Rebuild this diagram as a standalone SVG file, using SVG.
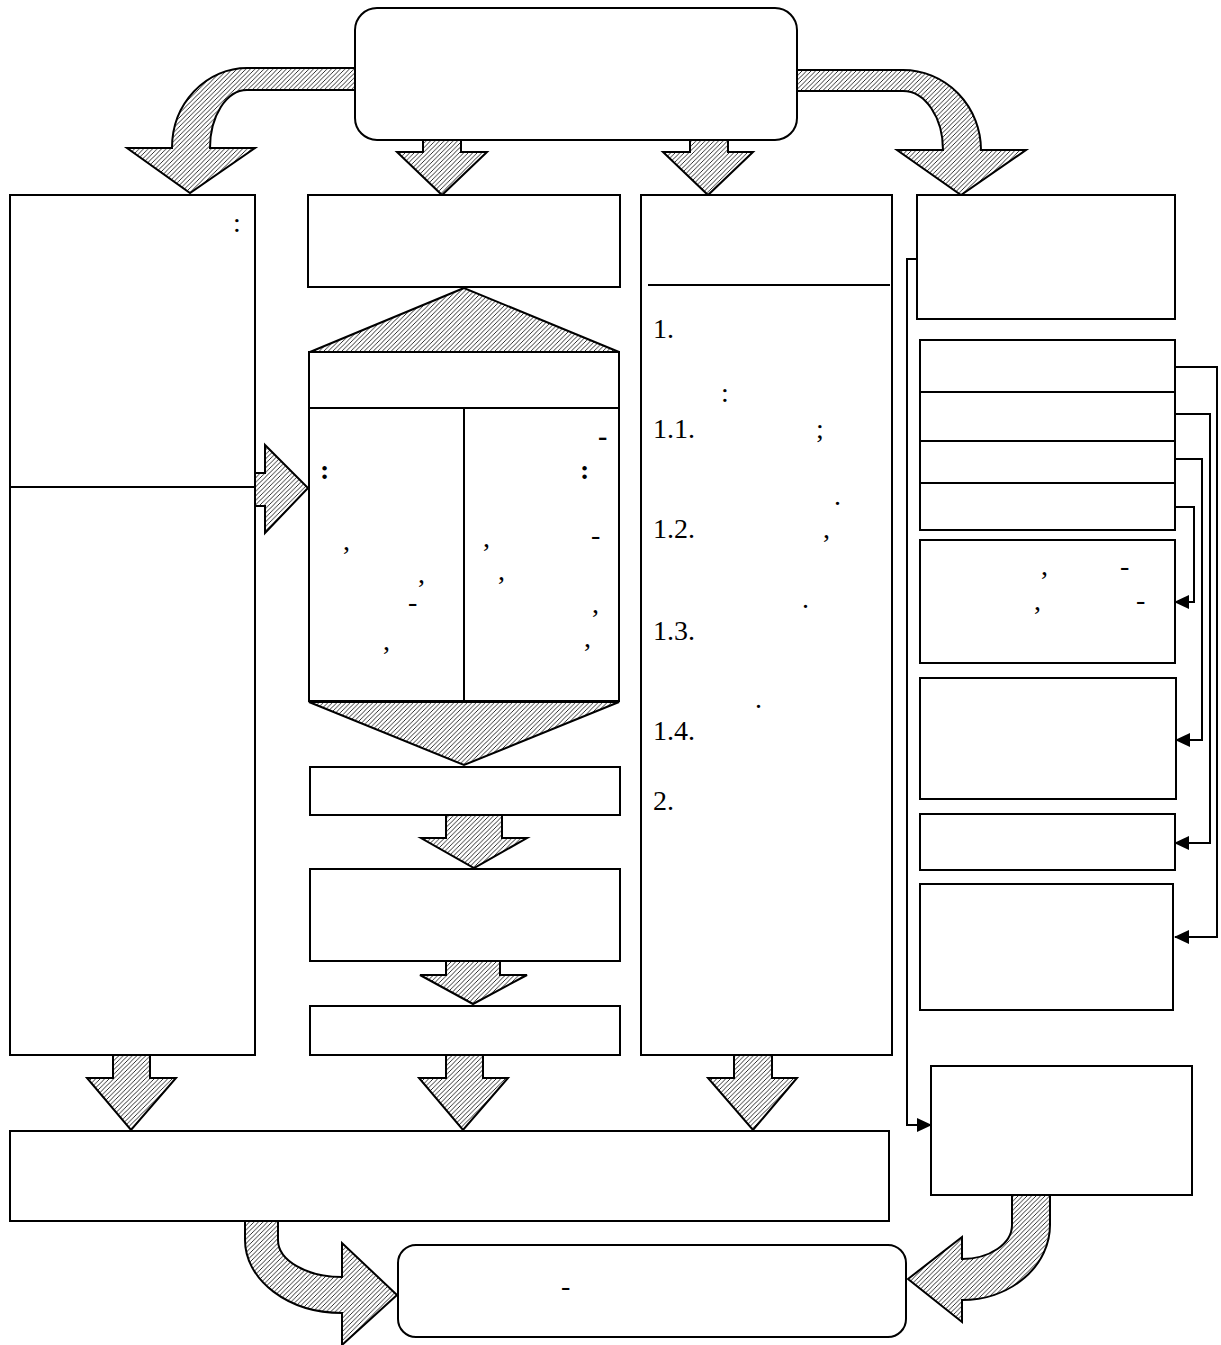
<svg xmlns="http://www.w3.org/2000/svg" width="1221" height="1345" viewBox="0 0 1221 1345">
<style>
.box{fill:#fff;stroke:#000;stroke-width:2}
.ln{fill:none;stroke:#000;stroke-width:2}
.hat{fill:url(#hatch);stroke:#000;stroke-width:2;stroke-linejoin:miter}
.con{fill:none;stroke:#000;stroke-width:2;marker-end:url(#ah)}
text{font-family:"Liberation Serif","Times New Roman",serif;font-size:28px;fill:#000}
.b{font-weight:bold}
</style>
<defs>
<pattern id="hatch" patternUnits="userSpaceOnUse" width="4.5" height="4.5">
<rect width="4.5" height="4.5" fill="#fff"/>
<path d="M-1,1 L1,-1 M0,4.5 L4.5,0 M3.5,5.5 L5.5,3.5" stroke="#1a1a1a" stroke-width="0.9"/>
</pattern>
<marker id="ah" markerWidth="15" markerHeight="14" refX="14" refY="7" orient="auto" markerUnits="userSpaceOnUse" viewBox="0 0 15 14">
<path d="M0,0 L15,7 L0,14 Z" fill="#000"/>
</marker>
</defs>
<rect width="1221" height="1345" fill="#fff"/>

<g id="connectors">
<path class="hat" d="M355,68 L247,68 A75,80 0 0 0 172,148 L127,148 L190,193 L255,148 L210,148 A37,58 0 0 1 247,90 L355,90 Z"/>
<path class="hat" d="M797,70 L903,70 A78,80 0 0 1 981,150 L1026,150 L961,195 L897,150 L943,150 A40,59 0 0 0 903,91 L797,91 Z"/>
<path class="hat" d="M423,140 L461,140 L461,152 L487,152 L442,195 L397,152 L423,152 Z"/>
<path class="hat" d="M690,140 L728,140 L728,152 L753,152 L708,195 L663,152 L690,152 Z"/>
<path class="hat" d="M254,473 L265,473 L265,445 L308,488 L265,533 L265,506 L254,506 Z"/>
<path class="hat" d="M464,288 L310,352 L619,352 Z"/>
<path class="hat" d="M309,702 L619,702 L464,765 Z"/>
<path class="hat" d="M446,815 L502,815 L502,838 L527,838 L474,868 L421,838 L446,838 Z"/>
<path class="hat" d="M446,961 L500,961 L500,975 L527,975 L473,1004 L420,975 L446,975 Z"/>
<path class="hat" d="M113,1055 L150,1055 L150,1078 L176,1078 L131,1130 L87,1078 L113,1078 Z"/>
<path class="hat" d="M446,1055 L483,1055 L483,1078 L508,1078 L463,1130 L419,1078 L446,1078 Z"/>
<path class="hat" d="M734,1055 L772,1055 L772,1078 L797,1078 L753,1130 L708,1078 L734,1078 Z"/>
<path class="hat" d="M245,1221 L245,1240 A97,73 0 0 0 342,1313 L342,1345 L397,1295 L342,1243 L342,1277 A64,37 0 0 1 278,1240 L278,1221 Z"/>
<path class="hat" d="M1050,1195 L1050,1225 A88,75 0 0 1 962,1300 L962,1322 L908,1279 L962,1237 L962,1259 A50,34 0 0 0 1012,1225 L1012,1195 Z"/>
<path class="con" d="M917,259 L907,259 L907,1125 L931,1125"/>
<path class="con" d="M1175,367 L1217,367 L1217,937 L1175,937"/>
<path class="con" d="M1175,414 L1210,414 L1210,843 L1175,843"/>
<path class="con" d="M1175,459 L1202,459 L1202,740 L1176,740"/>
<path class="con" d="M1175,507 L1194,507 L1194,602 L1175,602"/>
</g>

<g id="top"><rect class="box" x="355" y="8" width="442" height="132" rx="22"/></g>

<g id="left-col">
<rect class="box" x="10" y="195" width="245" height="860"/>
<line class="ln" x1="10" y1="487" x2="255" y2="487"/>
<text x="233" y="232">:</text>
</g>

<g id="mid-top"><rect class="box" x="308" y="195" width="312" height="92"/></g>
<g id="mid-head"><rect class="box" x="309" y="352" width="310" height="56"/></g>
<g id="mid-cols">
<rect class="box" x="309" y="408" width="155" height="293"/>
<rect class="box" x="464" y="408" width="155" height="293"/>
<text class="b" x="320" y="479">:</text>
<text class="b" x="598" y="445">-</text>
<text class="b" x="580" y="479">:</text>
<text x="343" y="550">,</text>
<text x="418" y="583">,</text>
<text x="408" y="611">-</text>
<text x="383" y="650">,</text>
<text x="483" y="547">,</text>
<text x="591" y="544">-</text>
<text x="498" y="580">,</text>
<text x="592" y="613">,</text>
<text x="584" y="647">,</text>
</g>
<g id="mid-b1"><rect class="box" x="310" y="767" width="310" height="48"/></g>
<g id="mid-b2"><rect class="box" x="310" y="869" width="310" height="92"/></g>
<g id="mid-b3"><rect class="box" x="310" y="1006" width="310" height="49"/></g>

<g id="third-col">
<rect class="box" x="641" y="195" width="251" height="860"/>
<line class="ln" x1="648" y1="285" x2="890" y2="285"/>
<text x="653" y="338">1.</text>
<text x="721" y="402">:</text>
<text x="653" y="438">1.1.</text>
<text x="816" y="438">;</text>
<text x="834" y="505">.</text>
<text x="653" y="538">1.2.</text>
<text x="823" y="538">,</text>
<text x="802" y="608">.</text>
<text x="653" y="640">1.3.</text>
<text x="755" y="708">.</text>
<text x="653" y="740">1.4.</text>
<text x="653" y="810">2.</text>
</g>

<g id="right-top"><rect class="box" x="917" y="195" width="258" height="124"/></g>
<g id="right-stack">
<rect class="box" x="920" y="340" width="255" height="190"/>
<line class="ln" x1="920" y1="392" x2="1175" y2="392"/>
<line class="ln" x1="920" y1="441" x2="1175" y2="441"/>
<line class="ln" x1="920" y1="483" x2="1175" y2="483"/>
</g>
<g id="right-a">
<rect class="box" x="920" y="540" width="255" height="123"/>
<text x="1041" y="575">,</text>
<text x="1120" y="575">-</text>
<text x="1034" y="610">,</text>
<text x="1136" y="609">-</text>
</g>
<g id="right-b"><rect class="box" x="920" y="678" width="256" height="121"/></g>
<g id="right-c"><rect class="box" x="920" y="814" width="255" height="56"/></g>
<g id="right-d"><rect class="box" x="920" y="884" width="253" height="126"/></g>
<g id="right-bottom"><rect class="box" x="931" y="1066" width="261" height="129"/></g>

<g id="wide"><rect class="box" x="10" y="1131" width="879" height="90"/></g>
<g id="final">
<rect class="box" x="398" y="1245" width="508" height="92" rx="18"/>
<text x="561" y="1295">-</text>
</g>
</svg>
